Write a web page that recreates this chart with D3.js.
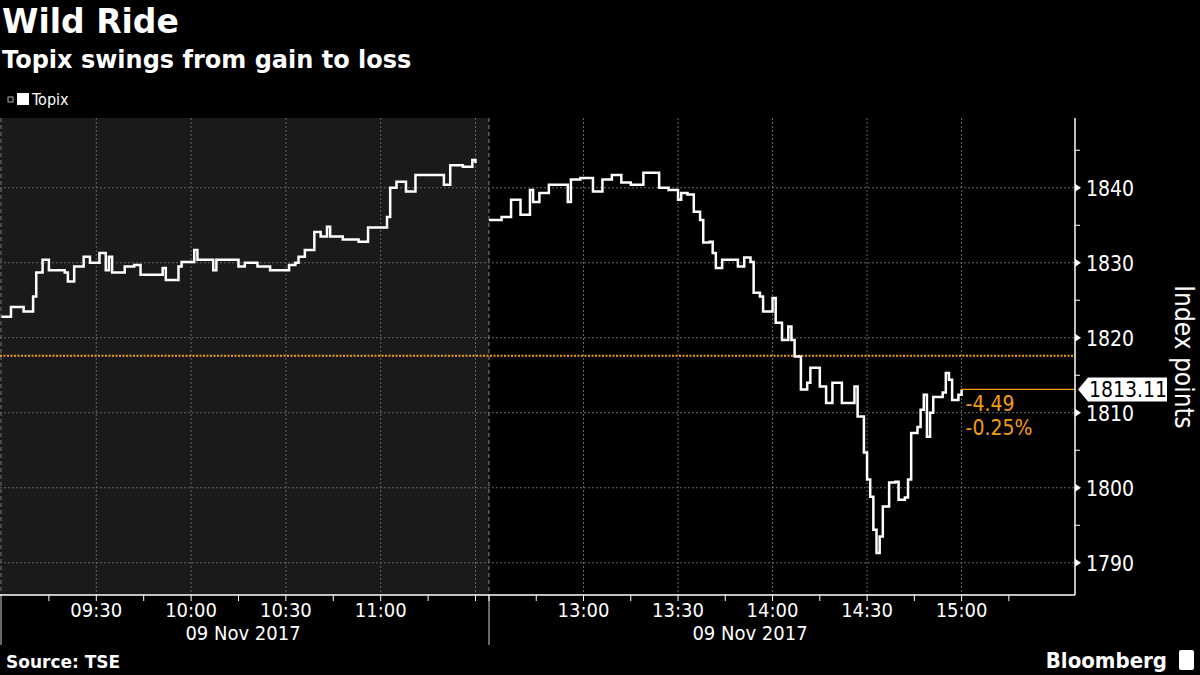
<!DOCTYPE html>
<html><head><meta charset="utf-8">
<script src="https://cdn.jsdelivr.net/npm/d3@7"></script>
<style>body{margin:0;background:#000;}svg{display:block;}</style>
</head><body><svg id="c" width="1200" height="675"></svg>
<script>
const morningTimes=["09:00","09:03","09:07","09:10","09:11","09:13","09:15","09:20","09:21","09:23","09:26","09:28","09:31","09:33","09:34","09:35","09:39","09:42","09:44","09:48","09:51","09:52","09:56","09:57","10:01","10:02","10:07","10:08","10:12","10:15","10:17","10:21","10:25","10:28","10:31","10:33","10:34","10:36","10:39","10:41","10:43","10:44","10:48","10:53","10:56","11:02","11:03","11:05","11:08","11:11","11:17","11:20","11:22","11:26","11:29","11:30"];
const morningValues=[1822.8,1824.1,1823.5,1825.5,1828.7,1830.4,1829,1828.7,1827.5,1829.5,1830.8,1830,1831.3,1829,1830.8,1828.7,1829.5,1829.7,1828.4,1828.4,1829.3,1827.7,1829.5,1830.1,1831.7,1830.4,1829,1830.4,1830.4,1829.5,1830,1829.5,1829,1829,1829.7,1830,1830.8,1831.7,1834.1,1833.5,1834.8,1833.5,1833.1,1832.8,1834.7,1836.1,1840,1840.8,1839.5,1841.7,1841.7,1840.4,1843,1842.8,1843.7,1843.3];
const afternoonTimes=["12:30","12:34","12:37","12:40","12:43","12:44","12:46","12:49","12:55","12:56","12:59","13:03","13:06","13:09","13:12","13:15","13:19","13:24","13:27","13:30","13:31","13:33","13:35","13:37","13:38","13:40","13:41","13:42","13:44","13:49","13:51","13:53","13:54","13:56","13:57","14:00","14:01","14:03","14:05","14:06","14:07","14:09","14:11","14:12","14:15","14:17","14:19","14:22","14:26","14:27","14:29","14:30","14:31","14:32","14:33","14:34","14:35","14:37","14:39","14:40","14:42","14:43","14:44","14:46","14:47","14:48","14:49","14:50","14:51","14:54","14:55","14:56","14:57","14:59","15:00"];
const afternoonValues=[1835.7,1836.1,1838.4,1836.4,1839.7,1838.1,1839.3,1840.4,1838.1,1841.1,1841.3,1839.5,1841.1,1841.7,1840.7,1840.4,1842,1840,1839.7,1838.4,1839.3,1839.1,1836.8,1835.7,1832.7,1832.8,1831.3,1829.3,1830.4,1829.5,1830.7,1830.1,1826,1825.5,1823.5,1825.3,1822,1819.7,1821.5,1819.7,1817.5,1813.1,1814,1816,1813.5,1811.3,1814,1811.3,1813.5,1809.5,1804.7,1801.1,1798.8,1794.4,1791.3,1793.5,1797.5,1800.7,1800.8,1798.4,1798.7,1801.1,1807.3,1808.1,1810.4,1812.4,1806.8,1810,1812.1,1812.7,1815.3,1814.4,1811.7,1812.4,1813.11];
const yTicks=[1790,1800,1810,1820,1830,1840];
const xTickLabels=["09:30","10:00","10:30","11:00","13:00","13:30","14:00","14:30","15:00"];
const prevClose=1817.60, lastPrice=1813.11, change="-4.49", changePct="-0.25%";

const svg=d3.select("#c");
const F="'Liberation Sans Narrow','DejaVu Sans Condensed','Liberation Sans',sans-serif";
const toMin=s=>{const [h,m]=s.split(":").map(Number);return (h-9)*60+m;};
const x=d3.scaleLinear().domain([0,150,210,396]).range([1.5,475.5,489,1075]);
const y=d3.scaleLinear().domain([1785.7,1849.3]).range([595,118]);
const L=0,R=1075,T=118,B=595;

svg.append("rect").attr("width",1200).attr("height",675).attr("fill","#000");
svg.append("rect").attr("x",L).attr("y",T).attr("width",x(210)-L).attr("height",B-T).attr("fill","#1a1a1a");

yTicks.forEach(v=>svg.append("line").attr("x1",L).attr("x2",R).attr("y1",y(v)).attr("y2",y(v))
  .attr("stroke","#666").attr("stroke-dasharray","2,2").attr("stroke-width",1));
const gridTimes=["09:30","10:00","10:30","11:00","11:30","13:00","13:30","14:00","14:30","15:00"];
gridTimes.forEach(t=>svg.append("line").attr("x1",x(toMin(t))).attr("x2",x(toMin(t))).attr("y1",T).attr("y2",B)
  .attr("stroke","#666").attr("stroke-dasharray","2,2"));
svg.append("line").attr("x1",1).attr("x2",1).attr("y1",T).attr("y2",B).attr("stroke","#777").attr("stroke-dasharray","4,3");
svg.append("line").attr("x1",x(210)).attr("x2",x(210)).attr("y1",T).attr("y2",B).attr("stroke","#888").attr("stroke-dasharray","4,3");
svg.append("line").attr("x1",x(210)).attr("x2",x(210)).attr("y1",B).attr("y2",645).attr("stroke","#ccc");
svg.append("line").attr("x1",1).attr("x2",1).attr("y1",B).attr("y2",645).attr("stroke","#ccc");

svg.append("line").attr("x1",L).attr("x2",R).attr("y1",y(prevClose)).attr("y2",y(prevClose))
  .attr("stroke","#f39c12").attr("stroke-width",2).attr("stroke-dasharray","2,1.5");

const line=d3.line().x(d=>x(toMin(d[0]))).y(d=>y(d[1])).curve(d3.curveStepAfter);
[[morningTimes,morningValues],[afternoonTimes,afternoonValues]].forEach(([t,v])=>{
  svg.append("path").datum(t.map((s,i)=>[s,v[i]])).attr("d",line).attr("fill","none")
    .attr("stroke","#fff").attr("stroke-width",2.5);
});

const lx=x(toMin("15:00"));
svg.append("line").attr("x1",lx).attr("x2",R).attr("y1",y(lastPrice)).attr("y2",y(lastPrice)).attr("stroke","#f39c12").attr("stroke-width",1.2);
svg.append("text").attr("x",lx+4).attr("y",y(lastPrice)+22).attr("fill","#f39c12").attr("font-family",F).attr("font-size",21).text(change);
svg.append("text").attr("x",lx+4).attr("y",y(lastPrice)+46).attr("fill","#f39c12").attr("font-family",F).attr("font-size",21).text(changePct);

svg.append("line").attr("x1",R).attr("x2",R).attr("y1",T).attr("y2",B).attr("stroke","#fff").attr("stroke-width",1.5);
d3.range(1790,1850,5).forEach(v=>svg.append("line").attr("x1",R).attr("x2",R+5).attr("y1",y(v)).attr("y2",y(v)).attr("stroke","#fff"));
yTicks.forEach(v=>{
  svg.append("path").attr("d",`M${R},${y(v)-4}L${R+6},${y(v)}L${R},${y(v)+4}Z`).attr("fill","#fff");
  svg.append("text").attr("x",R+11).attr("y",y(v)+8).attr("fill","#fff").attr("font-family",F).attr("font-size",21).text(v);
});
const ly=y(lastPrice);
svg.append("path").attr("d",`M${R+3},${ly}L${R+13},${ly-12}L${R+92},${ly-12}L${R+92},${ly+12}L${R+13},${ly+12}Z`).attr("fill","#fff");
svg.append("text").attr("x",R+14).attr("y",ly+8).attr("fill","#000").attr("font-family",F).attr("font-size",21).text(lastPrice.toFixed(2));
svg.append("text").attr("transform","translate(1175,357) rotate(90)").attr("text-anchor","middle").attr("fill","#fff")
  .attr("font-family",F).attr("font-size",26).text("Index points");

svg.append("line").attr("x1",0).attr("x2",R).attr("y1",B).attr("y2",B).attr("stroke","#fff").attr("stroke-width",1.5);
const minor=d3.range(15,151,15).concat(d3.range(210,376,15));
minor.forEach(m=>svg.append("line").attr("x1",x(m)).attr("x2",x(m)).attr("y1",B).attr("y2",B+6).attr("stroke","#fff"));
xTickLabels.forEach(t=>svg.append("text").attr("x",x(toMin(t))).attr("y",617).attr("text-anchor","middle")
  .attr("fill","#fff").attr("font-family",F).attr("font-size",20).text(t));
[[243,"09 Nov 2017"],[750,"09 Nov 2017"]].forEach(([cx,t])=>svg.append("text").attr("x",cx).attr("y",640).attr("text-anchor","middle")
  .attr("fill","#fff").attr("font-family",F).attr("font-size",20).text(t));

svg.append("text").attr("x",2).attr("y",33).attr("fill","#fff").attr("font-family","'DejaVu Sans',sans-serif").attr("font-weight","bold").attr("font-size",33).text("Wild Ride");
svg.append("text").attr("x",2).attr("y",68).attr("fill","#fff").attr("font-family","'DejaVu Sans',sans-serif").attr("font-weight","bold").attr("font-size",24).text("Topix swings from gain to loss");
svg.append("rect").attr("x",8).attr("y",97).attr("width",5).attr("height",5).attr("fill","none").attr("stroke","#aaa").attr("stroke-width",1);
svg.append("rect").attr("x",17).attr("y",93).attr("width",12).attr("height",12).attr("fill","#fff");
svg.append("text").attr("x",32).attr("y",105).attr("fill","#fff").attr("font-family",F).attr("font-size",16).text("Topix");
svg.append("text").attr("x",6).attr("y",668).attr("fill","#fff").attr("font-family","'DejaVu Sans',sans-serif").attr("font-weight","bold").attr("font-size",17).text("Source: TSE");
svg.append("text").attr("x",1167).attr("y",668).attr("text-anchor","end").attr("fill","#fff").attr("font-family",F).attr("font-weight","bold").attr("font-size",22).text("Bloomberg");
svg.append("rect").attr("x",1179).attr("y",650).attr("width",15).attr("height",20).attr("rx",2).attr("fill","#fff");
</script></body></html>
